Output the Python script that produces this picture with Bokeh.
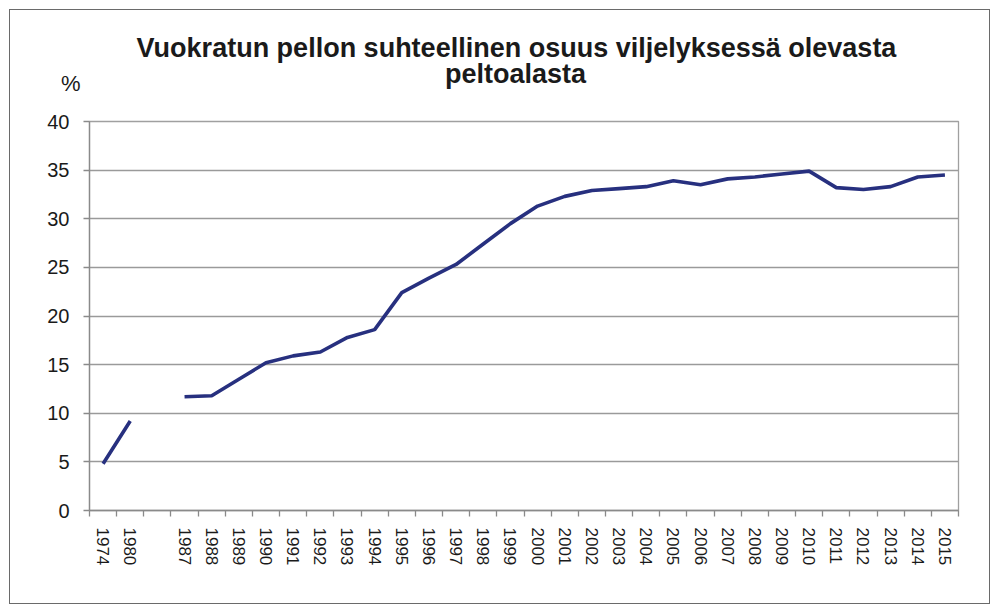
from bokeh.plotting import figure
from bokeh.layouts import column
from bokeh.models import (Label, LinearAxis, CategoricalAxis, FixedTicker, Range1d,
                          FactorRange, SingleIntervalTicker)
from bokeh.embed import file_html
from bokeh.resources import INLINE

# ---- data ----
years = ["1974", "1980", "", "1987", "1988", "1989", "1990", "1991", "1992", "1993",
         "1994", "1995", "1996", "1997", "1998", "1999", "2000", "2001", "2002", "2003",
         "2004", "2005", "2006", "2007", "2008", "2009", "2010", "2011", "2012", "2013",
         "2014", "2015"]
share = [4.8, 9.2, float("nan"), 11.7, 11.8, 13.5, 15.2, 15.9, 16.3, 17.8,
         18.6, 22.4, 23.9, 25.3, 27.4, 29.5, 31.3, 32.3, 32.9, 33.1,
         33.3, 33.9, 33.5, 34.1, 34.3, 34.6, 34.9, 33.2, 33.0, 33.3,
         34.3, 34.5]
title_lines = ["Vuokratun pellon suhteellinen osuus viljelyksessä olevasta", "peltoalasta"]
y_unit = "%"
y_ticks_step = 5

FONT = "Liberation Sans"
TXT = "#1a1a1a"
GRAY = "#8a8a8a"

W = 979
H1 = 99
H2 = 494
BL, BR = 79, 31          # left / right borders of the chart frame

# ---- header (title and unit) ----
head = figure(width=W, height=H1, x_range=Range1d(89, 958), y_range=Range1d(H1, 0),
              output_backend="svg", toolbar_location=None, x_axis_location=None,
              min_border_left=BL, min_border_right=BR, min_border_top=0, min_border_bottom=0)
head.outline_line_color = None
head.xgrid.visible = False
head.ygrid.visible = False
unit_pos = 73
hy = head.yaxis[0]
hy.ticker = FixedTicker(ticks=[unit_pos])
hy.major_label_overrides = {unit_pos: y_unit}
hy.axis_line_color = None
hy.major_tick_line_color = None
hy.minor_tick_line_color = None
hy.major_tick_out = 0
hy.major_tick_in = 0
hy.major_label_standoff = 9
hy.major_label_text_font = FONT
hy.major_label_text_font_size = "22px"
hy.major_label_text_color = TXT

head.add_layout(Label(x=516, y=37, text=title_lines[0], text_font=FONT,
                      text_font_style="bold", text_font_size="27px", text_color=TXT,
                      text_align="center", text_baseline="alphabetic"))
head.add_layout(Label(x=515, y=63, text=title_lines[1], text_font=FONT,
                      text_font_style="bold", text_font_size="27px", text_color=TXT,
                      text_align="center", text_baseline="alphabetic"))

# ---- main chart ----
p = figure(x_range=FactorRange(factors=years, range_padding=0), y_range=Range1d(0, 40),
           width=W, height=H2, output_backend="svg", toolbar_location=None,
           x_axis_location=None, min_border_left=BL, min_border_right=BR,
           min_border_top=12, min_border_bottom=93)
p.outline_line_color = "#a0a0a0"
p.outline_line_width = 1.3
p.xgrid.visible = False
p.ygrid.grid_line_color = "#9a9a9a"
p.ygrid.grid_line_width = 1.3
p.ygrid.ticker = SingleIntervalTicker(interval=y_ticks_step)

ya = p.yaxis[0]
ya.ticker = SingleIntervalTicker(interval=y_ticks_step)
ya.axis_line_color = GRAY
ya.axis_line_width = 1.3
ya.major_tick_line_color = GRAY
ya.major_tick_line_width = 1.3
ya.major_tick_out = 6
ya.major_tick_in = 0
ya.minor_tick_line_color = None
ya.major_label_text_font = FONT
ya.major_label_text_font_size = "20px"
ya.major_label_text_color = TXT
ya.major_label_standoff = 14

# tick marks at category boundaries (no labels)
tick_axis = LinearAxis(ticker=FixedTicker(ticks=list(range(len(years) + 1))))
tick_axis.axis_line_color = GRAY
tick_axis.axis_line_width = 1.3
tick_axis.major_tick_line_color = GRAY
tick_axis.major_tick_line_width = 1.3
tick_axis.major_tick_out = 6
tick_axis.major_tick_in = 0
tick_axis.minor_tick_line_color = None
tick_axis.major_label_text_color = None
tick_axis.major_label_text_font_size = "1px"
tick_axis.major_label_standoff = 0
p.add_layout(tick_axis, "below")

lab_axis = CategoricalAxis()
lab_axis.axis_line_color = None
lab_axis.major_tick_line_color = None
lab_axis.major_label_orientation = "vertical"
lab_axis.major_label_text_font = FONT
lab_axis.major_label_text_font_size = "17px"
lab_axis.major_label_text_color = TXT
lab_axis.major_label_standoff = 5
p.add_layout(lab_axis, "below")

p.line(x=years, y=share, line_color="#27307f", line_width=3.6)

page = column(head, p, styles={"border": "1px solid #6a6a6a", "margin": "9px 0 0 9px"})

open("out.html", "w").write(file_html(page, INLINE))
